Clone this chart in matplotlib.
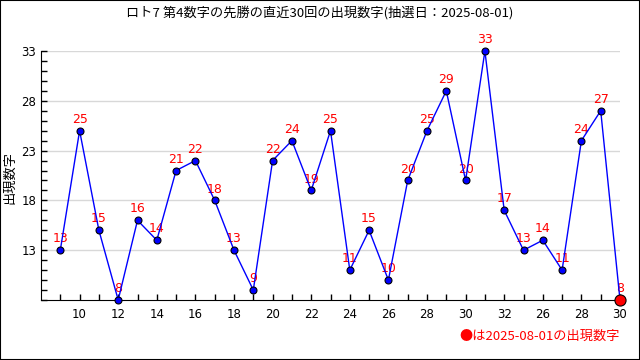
import matplotlib
matplotlib.use("Agg")
import matplotlib.pyplot as plt

plt.rcParams['font.family'] = ['Noto Sans CJK JP', 'DejaVu Sans']

# draw index 1..30 and the drawn numbers
draw_idx = list(range(1, 31))
numbers = [13, 25, 15, 8, 16, 14, 21, 22, 18, 13, 9, 22, 24, 19, 25,
           11, 15, 10, 20, 25, 29, 20, 33, 17, 13, 14, 11, 24, 27, 8]
xtick_pos = [2, 4, 6, 8, 10, 12, 14, 16, 18, 20, 22, 24, 26, 28, 30]
xtick_labels = ["10", "12", "14", "16", "18", "20", "22", "24", "26", "28",
                "30", "32", "26", "28", "30"]
ytick_major = [13, 18, 23, 28, 33]

fig = plt.figure(figsize=(6.4, 3.6), dpi=100)
ax = fig.add_axes([41 / 640, 1 - 300 / 360, (620 - 41) / 640, (300 - 51) / 360])

ax.plot(draw_idx, numbers, color="blue", lw=1, marker="o", ms=5,
        mfc="blue", mec="black", mew=0.8, clip_on=False, zorder=3)
ax.plot(draw_idx[-1], numbers[-1], "o", ms=8, mfc="red", mec="black",
        mew=0.8, clip_on=False, zorder=4)

for x, y in zip(draw_idx, numbers):
    ax.annotate(str(y), (x, y), xytext=(0, 3.5), textcoords="offset points",
                ha="center", va="bottom", color="red", fontsize=9,
                family="DejaVu Sans", annotation_clip=False, zorder=2)

ax.set_xlim(0, 30)
ax.set_ylim(8, 33)
ax.set_xticks(xtick_pos)
ax.set_xticklabels(xtick_labels)
ax.set_xticks(draw_idx, minor=True)
ax.set_yticks(ytick_major)
ax.set_yticks(range(8, 34), minor=True)
ax.tick_params(which="both", direction="in", length=4, width=1, labelsize=8.5)
ax.tick_params(axis="x", pad=6)
for lab in ax.get_xticklabels() + ax.get_yticklabels():
    lab.set_family("DejaVu Sans")
ax.grid(axis="y", which="major", color="#d8d8d8", lw=1)
ax.set_axisbelow(True)
for s in ["top", "right"]:
    ax.spines[s].set_visible(False)

fig.text(0.5, 1 - 13 / 360, "ロト7 第4数字の先勝の直近30回の出現数字(抽選日：2025-08-01)",
         ha="center", va="center", fontsize=9.5)
fig.text(10 / 640, 1 - 177 / 360, "出現数字", rotation=90, ha="center",
         va="center", fontsize=9.5)
fig.text(620 / 640, 1 - 336 / 360, "●は2025-08-01の出現数字", ha="right",
         va="center", color="red", fontsize=9.5)

fig.patches.append(plt.Rectangle((0, 0), 1, 1, transform=fig.transFigure,
                                 fill=False, edgecolor="black", lw=1.5))
fig.savefig("out.png", dpi=100)
